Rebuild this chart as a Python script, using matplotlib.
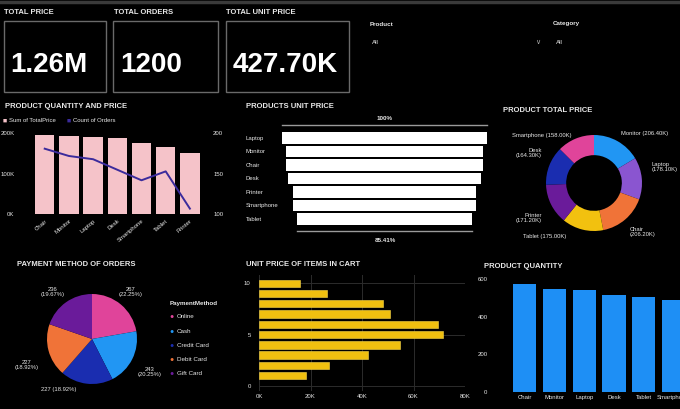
import matplotlib
matplotlib.use('Agg')
import matplotlib.pyplot as plt
from matplotlib.patches import Rectangle
from matplotlib.lines import Line2D

plt.rcParams['font.family'] = ['Liberation Sans', 'DejaVu Sans']

W, H = 680, 409
BG = '#000000'
FG = '#e8e8e8'

# ---- data ----
kpi_titles = ['TOTAL PRICE', 'TOTAL ORDERS', 'TOTAL UNIT PRICE']
kpi_values = ['1.26M', '1200', '427.70K']

combo_cats = ['Chair', 'Monitor', 'Laptop', 'Desk', 'Smartphone', 'Tablet', 'Printer']
combo_price_k = [196, 194, 192, 188, 175, 167, 151]
combo_orders = [181, 172, 168, 155, 142, 153, 107]

funnel_cats = ['Laptop', 'Monitor', 'Chair', 'Desk', 'Printer', 'Smartphone', 'Tablet']
funnel_vals = [65.8, 63.5, 63.3, 61.9, 58.5, 58.5, 56.2]

donut_cats = ['Monitor', 'Laptop', 'Chair', 'Tablet', 'Printer', 'Desk', 'Smartphone']
donut_vals_k = [206.4, 178.1, 206.2, 175.0, 171.2, 164.3, 158.0]
donut_colors = ['#2196f3', '#8a55d0', '#f07338', '#f2c10f', '#6a1b9a', '#1a2db0', '#e0449a']

pay_methods = ['Online', 'Cash', 'Credit Card', 'Debit Card', 'Gift Card']
pay_counts = [267, 243, 227, 227, 236]
pay_colors = ['#e0449a', '#2196f3', '#1a2db0', '#f07338', '#6a1b9a']

cart_items = [10, 9, 8, 7, 6, 5, 4, 3, 2, 1]
cart_unit_price_k = [15.8, 26.4, 48.2, 51.0, 69.4, 71.4, 54.8, 42.4, 27.2, 18.4]

qty_cats = ['Chair', 'Monitor', 'Laptop', 'Desk', 'Tablet', 'Smartphone', 'Printer']
qty_vals = [571, 548, 541, 514, 504, 486, 470]

fig = plt.figure(figsize=(W / 100, H / 100), dpi=100, facecolor=BG)
fig.add_artist(Line2D([0, 1], [1 - 1.5 / H, 1 - 1.5 / H], color='#3a3a3a', lw=2.5))


def px_axes(x0, y0, x1, y1):
    ax = fig.add_axes([x0 / W, 1 - y1 / H, (x1 - x0) / W, (y1 - y0) / H])
    ax.set_facecolor('none')
    return ax


def txt(x, y, s, size=5, **kw):
    kw.setdefault('va', 'center')
    kw.setdefault('color', FG)
    fig.text(x / W, 1 - y / H, s, fontsize=size, **kw)


def clean(ax):
    for sp in ax.spines.values():
        sp.set_visible(False)
    ax.tick_params(colors=FG, labelsize=4.3, length=0)


# ---- KPI cards ----
boxes = [(3.5, 106), (113, 218), (225.5, 349)]
for (x0, x1), t, v in zip(boxes, kpi_titles, kpi_values):
    fig.patches.append(Rectangle((x0 / W, 1 - 92 / H), (x1 - x0) / W, 71 / H,
                                 transform=fig.transFigure, fill=False,
                                 edgecolor='#6a6a6a', lw=1))
    txt(x0 + 1, 13, t, size=5.5, weight='bold')
    txt(x0 + 7, 72, v, size=20, weight='bold', ha='left', va='baseline', color='white')

# slicers
txt(370, 24, 'Product', size=4.5, weight='bold')
txt(372, 43, 'All', size=4.5)
txt(535, 42, '\u2228', size=5, color='#aaaaaa')
txt(553, 24, 'Category', size=4.5, weight='bold')
txt(556, 43, 'All', size=4.5)

# ---- product quantity and price ----
txt(5, 106, 'PRODUCT QUANTITY AND PRICE', size=5.5, weight='bold')
txt(3, 121, '\u25a0', size=5, color='#f5c3c9')
txt(9, 121, 'Sum of TotalPrice', size=4.3)
txt(67, 121, '\u25a0', size=5, color='#3b2b9c')
txt(73, 121, 'Count of Orders', size=4.3)
ax1 = px_axes(32.6, 133.3, 202, 214.3)
x = range(len(combo_cats))
ax1.bar(x, combo_price_k, width=0.8, color='#f5c3c9')
ax1.set_xlim(-0.5, 6.5)
ax1.set_ylim(0, 200)
ax1.set_yticks([0, 100, 200])
ax1.set_yticklabels(['0K', '100K', '200K'])
ax1.set_xticks(list(x))
ax1.set_xticklabels(combo_cats, rotation=40, ha='right', rotation_mode='anchor')
clean(ax1)
ax1.tick_params(axis='y', pad=13)
ax1.tick_params(axis='x', pad=3)
ax1b = ax1.twinx()
ax1b.plot(x, combo_orders, color='#3b2b9c', lw=1.4)
ax1b.set_ylim(100, 200)
ax1b.set_yticks([100, 150, 200])
clean(ax1b)
ax1b.tick_params(axis='y', pad=8)

# ---- funnel ----
txt(246, 106, 'PRODUCTS UNIT PRICE', size=5.5, weight='bold')
ax2 = px_axes(282, 125, 487, 231)
mx = max(funnel_vals)
lefts = [(mx - v) / 2 for v in funnel_vals]
ax2.barh(range(len(funnel_vals)), funnel_vals, left=lefts, height=0.86, color='white')
ax2.set_xlim(0, mx)
ax2.set_ylim(6.9, -0.95)
ax2.plot([0, mx], [-0.95, -0.95], color='#9a9a9a', lw=1, clip_on=False)
ax2.plot([lefts[-1], lefts[-1] + funnel_vals[-1]], [6.9, 6.9], color='#9a9a9a', lw=1, clip_on=False)
ax2.set_xticks([])
ax2.set_yticks(range(len(funnel_cats)))
ax2.set_yticklabels(funnel_cats, ha='left')
clean(ax2)
ax2.tick_params(axis='y', pad=26)
txt(385, 118, '100%', size=4.5, ha='center', weight='bold')
txt(385, 240, '%.2f%%' % (funnel_vals[-1] / mx * 100), size=4.5, ha='center', weight='bold')

# ---- donut ----
txt(503, 110, 'PRODUCT TOTAL PRICE', size=5.5, weight='bold')
ax3 = px_axes(546, 135, 642, 231)
ax3.pie(donut_vals_k, colors=donut_colors, startangle=90, counterclock=False,
        radius=1, wedgeprops=dict(width=0.42, edgecolor='none'))
ax3.set_xlim(-1, 1)
ax3.set_ylim(-1, 1)
dl = ['%s (%.2fK)' % (c, v) for c, v in zip(donut_cats, donut_vals_k)]
dl2 = ['%s\n(%.2fK)' % (c, v) for c, v in zip(donut_cats, donut_vals_k)]
txt(645, 133, dl[0], size=4.2, ha='center')
txt(652, 167, dl2[1], size=4.2, ha='left')
txt(630, 232, dl2[2], size=4.2, ha='left')
txt(545, 237, dl[3], size=4.2, ha='center')
txt(542, 218, dl2[4], size=4.2, ha='right')
txt(542, 153, dl2[5], size=4.2, ha='right')
txt(542, 135, dl[6], size=4.2, ha='center')

# ---- payment pie ----
txt(17, 265, 'PAYMENT METHOD OF ORDERS', size=5.5, weight='bold')
ax4 = px_axes(47, 294, 137, 384)
ax4.pie(pay_counts, colors=pay_colors, startangle=90, counterclock=False,
        wedgeprops=dict(edgecolor='none'))
ax4.set_xlim(-1, 1)
ax4.set_ylim(-1, 1)
tot = sum(pay_counts)
pl = ['%d\n(%.2f%%)' % (c, c / tot * 100) for c in pay_counts]
txt(131, 292, pl[0], size=4.2, ha='center')
txt(150, 372, pl[1], size=4.2, ha='center')
txt(59, 390, pl[2].replace('\n', ' '), size=4.2, ha='center')
txt(27, 365, pl[3], size=4.2, ha='center')
txt(53, 292, pl[4], size=4.2, ha='center')
txt(170, 304, 'PaymentMethod', size=4.5, weight='bold')
for i, (m, c) in enumerate(zip(pay_methods, pay_colors)):
    yy = 317 + i * 14.2
    txt(169, yy, '\u25cf', size=5, color=c)
    txt(177, yy, m, size=4.5)

# ---- unit price by items in cart ----
txt(246, 265, 'UNIT PRICE OF ITEMS IN CART', size=5.5, weight='bold')
ax5 = px_axes(259, 275, 465, 391)
ax5.barh(cart_items, cart_unit_price_k, height=0.72, color='#f0c010',
         edgecolor='#f7d54a', lw=0.4, zorder=2)
ax5.set_xlim(0, 80)
ax5.set_ylim(-0.5, 10.8)
ax5.set_xticks([0, 20, 40, 60, 80])
ax5.set_xticklabels(['0K', '20K', '40K', '60K', '80K'])
ax5.set_yticks([0, 5, 10])
ax5.grid(color='#2c2c2c', lw=0.7, zorder=0)
clean(ax5)
ax5.tick_params(axis='y', pad=6)
ax5.tick_params(axis='x', pad=2)

# ---- product quantity ----
txt(484, 266, 'PRODUCT QUANTITY', size=5.5, weight='bold')
ax6 = px_axes(507, 279, 721, 392)
ax6.bar(range(len(qty_cats)), qty_vals, width=0.78, color='#1e8ff5')
ax6.set_xlim(-0.6, 6.6)
ax6.set_ylim(0, 600)
ax6.set_yticks([0, 200, 400, 600])
ax6.set_xticks(range(len(qty_cats)))
ax6.set_xticklabels(qty_cats)
clean(ax6)
ax6.tick_params(axis='y', pad=14)
ax6.tick_params(axis='x', pad=2)

fig.savefig('out.png', dpi=100, facecolor=BG)
